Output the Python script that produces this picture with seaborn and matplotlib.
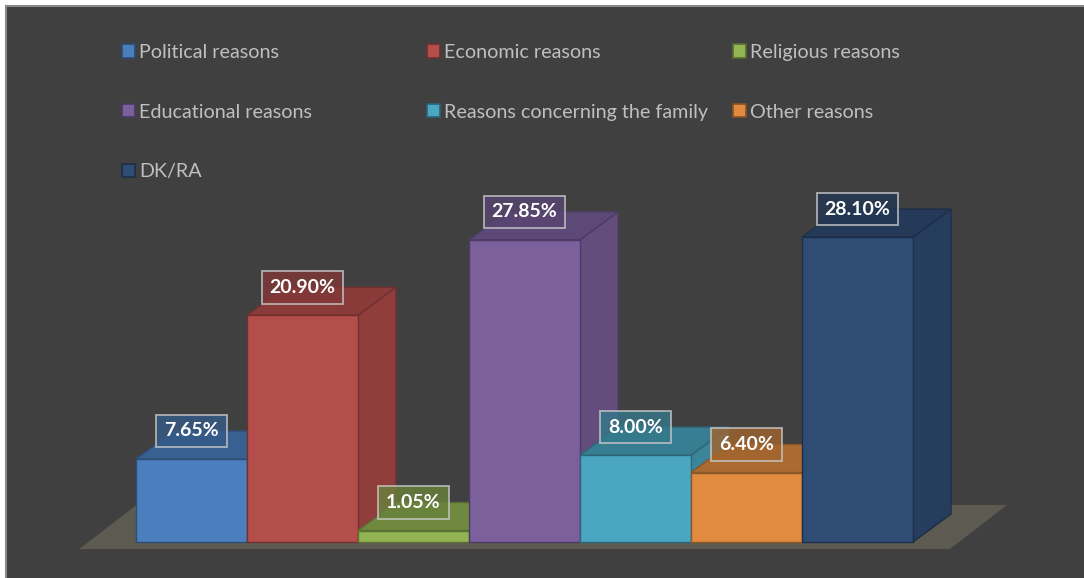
import matplotlib
matplotlib.use("Agg")
import matplotlib.pyplot as plt
import seaborn as sns
import pandas as pd
from matplotlib.patches import Polygon, Patch, Rectangle
from matplotlib.colors import to_rgb

# ---- data -------------------------------------------------------------
categories = [
    "Political reasons",
    "Economic reasons",
    "Religious reasons",
    "Educational reasons",
    "Reasons concerning the family",
    "Other reasons",
    "DK/RA",
]
shares = [7.65, 20.90, 1.05, 27.85, 8.00, 6.40, 28.10]
value_labels = ["7.65%", "20.90%", "1.05%", "27.85%", "8.00%", "6.40%", "28.10%"]
colors = ["#4a7ebd", "#b34e4b", "#92b453", "#7b609c", "#4aa6c1", "#e08b40", "#2f4c74"]

# legend layout: which categories sit in each legend column
legend_columns = [[0, 3, 6], [1, 4], [2, 5]]


def shade(c, f):
    r, g, b = to_rgb(c)
    return (r * f, g * f, b * f)


sns.set_theme(style="dark")
plt.rcParams["font.family"] = ["Lato", "DejaVu Sans"]

W, H = 1084, 578
fig = plt.figure(figsize=(W / 100, H / 100), dpi=100, facecolor="white")
ax = fig.add_axes([6 / W, 0, 1 - 6 / W, 572 / H])
ax.set_facecolor("#404040")
for side in ("right", "bottom"):
    ax.spines[side].set_visible(False)
for side in ("left", "top"):
    ax.spines[side].set_color("#8a8a8a")
    ax.spines[side].set_linewidth(1.5)

df = pd.DataFrame({"reason": categories, "share": shares})
sns.barplot(data=df, x="reason", y="share", hue="reason", order=categories,
            hue_order=categories, palette=colors, saturation=1, width=1.0,
            legend=False, ax=ax)

# pixel geometry of the plotting area (bars 111 px wide, 10.85 px per %)
px_per_unit, px0 = 111.0, 191.5
px_per_pct, base_y = 10.85, 542.0
ax.set_xlim((6 - px0) / px_per_unit, (W - px0) / px_per_unit)
ax.set_ylim((base_y - H) / px_per_pct, (base_y - 6) / px_per_pct)

# depth offset of the 3-D prisms (in data units)
dx, dy = 38 / px_per_unit, 28 / px_per_pct

bars = sorted([p for p in ax.patches if isinstance(p, Rectangle) and p.get_height() > 0],
              key=lambda p: p.get_x())

# floor slab under the bars
fdx, fdy = 57 / px_per_unit, 44 / px_per_pct
fx0, fx1, fy = -1.01, 6.833, -0.645
ax.add_patch(Polygon([(fx0, fy), (fx1, fy), (fx1 + fdx, fy + fdy), (fx0 + fdx, fy + fdy)],
                     closed=True, facecolor="#5d5a51", edgecolor="none", zorder=1.5))

for i, (bar, col) in enumerate(zip(bars, colors)):
    x0, w, h = bar.get_x(), bar.get_width(), bar.get_height()
    edge = shade(col, 0.62)
    bar.set_facecolor(col)
    bar.set_edgecolor(edge)
    bar.set_linewidth(1.0)
    bar.set_zorder(3 + i + 0.2)
    side = Polygon([(x0 + w, 0), (x0 + w + dx, dy), (x0 + w + dx, h + dy), (x0 + w, h)],
                   closed=True, facecolor=shade(col, 0.80), edgecolor=edge, lw=1.0,
                   zorder=3 + i + 0.1)
    top = Polygon([(x0, h), (x0 + w, h), (x0 + w + dx, h + dy), (x0 + dx, h + dy)],
                  closed=True, facecolor=shade(col, 0.76), edgecolor=edge, lw=1.0,
                  zorder=3 + i + 0.1)
    ax.add_patch(side)
    ax.add_patch(top)
    ax.text(x0 + w / 2, h + dy, value_labels[i], ha="center", va="center",
            color="white", fontsize=14, fontweight="bold", zorder=30,
            bbox=dict(boxstyle="square,pad=0.4", facecolor=shade(col, 0.72),
                      alpha=0.8, edgecolor="#c9c9c9", linewidth=1.3))

ax.set_xlabel("")
ax.set_ylabel("")
ax.set_xticks([])
ax.set_yticks([])
ax.grid(False)

# legend, laid out as three fixed-width columns
leg_fs = 14.2
leg_x = [122, 427, 733]
for k, (members, xpx) in enumerate(zip(legend_columns, leg_x)):
    handles = [Patch(facecolor=colors[j], edgecolor=shade(colors[j], 0.6), linewidth=1.2)
               for j in members]
    labels = [categories[j] for j in members]
    leg = fig.legend(handles, labels, loc="upper left",
                     bbox_to_anchor=(xpx / W, 1 - 44 / H), bbox_transform=fig.transFigure,
                     frameon=False, fontsize=leg_fs, labelcolor="#bfbfbf",
                     handlelength=0.68, handleheight=0.68, handletextpad=0.2,
                     labelspacing=2.16, borderpad=0, borderaxespad=0)

fig.savefig("out.png", dpi=100, facecolor="white")
